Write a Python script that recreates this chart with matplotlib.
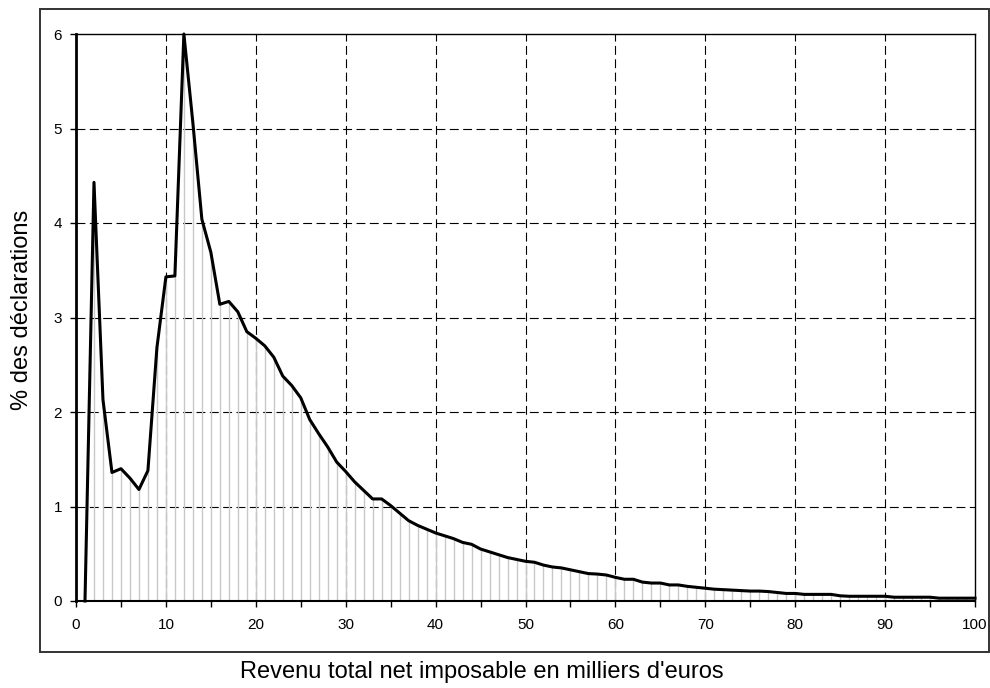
import numpy as np
import matplotlib
matplotlib.use('Agg')
import matplotlib.pyplot as plt
from matplotlib.patches import Rectangle

plt.rcParams['font.family'] = ['Liberation Sans', 'DejaVu Sans']

# revenu en milliers d'euros (1..100) et % des declarations
revenu = list(range(1, 101))
pct_decl = [0.00, 4.43, 2.13, 1.36, 1.40, 1.30, 1.18, 1.38, 2.68, 3.43,
            3.44, 6.00, 5.06, 4.04, 3.69, 3.14, 3.17, 3.06, 2.85, 2.78,
            2.70, 2.58, 2.38, 2.28, 2.15, 1.92, 1.77, 1.63, 1.47, 1.37,
            1.26, 1.17, 1.08, 1.08, 1.01, 0.93, 0.85, 0.80, 0.76, 0.72,
            0.69, 0.66, 0.62, 0.60, 0.55, 0.52, 0.49, 0.46, 0.44, 0.42,
            0.41, 0.38, 0.36, 0.35, 0.33, 0.31, 0.29, 0.285, 0.275, 0.25,
            0.23, 0.23, 0.20, 0.19, 0.19, 0.17, 0.17, 0.155, 0.145, 0.135,
            0.125, 0.12, 0.115, 0.11, 0.105, 0.105, 0.10, 0.09, 0.08, 0.08,
            0.07, 0.07, 0.07, 0.07, 0.055, 0.05, 0.05, 0.05, 0.05, 0.05,
            0.04, 0.04, 0.04, 0.04, 0.04, 0.03, 0.03, 0.03, 0.03, 0.03]

x_ticks = list(range(0, 101, 10))
y_ticks = list(range(0, 7))

fig = plt.figure(figsize=(9.9, 6.88), dpi=100)
ax = fig.add_axes([76/990, 1-601/688, (975-76)/990, (601-34)/688])

# outer chart frame (excel style)
fig.patches.append(Rectangle((40/990, 1-652/688), (989-40)/990, (652-9)/688,
                             transform=fig.transFigure, fill=False,
                             edgecolor='#333333', linewidth=1.4))

# gridlines
for gx in x_ticks[1:-1]:
    ax.axvline(gx, color='black', lw=0.8, dashes=(8, 4), zorder=1)
for gy in y_ticks[1:-1]:
    ax.axhline(gy, color='black', lw=0.8, dashes=(8, 4), zorder=1)

# drop lines
ax.vlines(revenu, 0, pct_decl, color='#c8c8c8', lw=1.0, zorder=2)
ax.plot(revenu, pct_decl, color='black', lw=2.2, zorder=3, clip_on=False)

ax.set_xlim(0, 100)
ax.set_ylim(0, 6)
ax.set_xticks(x_ticks)
ax.set_xticks(list(range(5, 100, 10)), minor=True)
ax.set_yticks(y_ticks)
ax.tick_params(axis='both', which='both', direction='out', length=4,
               width=1, labelsize=11, color='black')
ax.tick_params(axis='x', pad=8)
ax.tick_params(axis='y', pad=6)

for s in ax.spines.values():
    s.set_color('black')
    s.set_linewidth(1.0)
ax.spines['left'].set_linewidth(2.0)
ax.spines['bottom'].set_linewidth(1.5)

fig.text(482/990, 1-672/688, "Revenu total net imposable en milliers d'euros",
         ha='center', va='center', fontsize=17)
fig.text(22/990, 1-310/688, "% des déclarations", rotation=90,
         ha='center', va='center', fontsize=17)

fig.savefig('out.png', dpi=100)
